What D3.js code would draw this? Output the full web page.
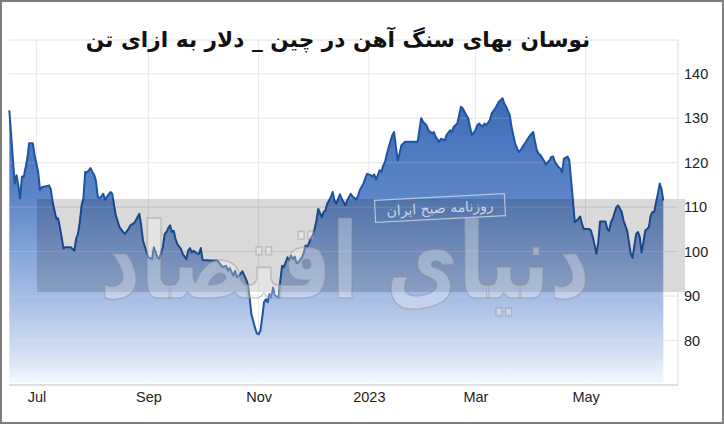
<!DOCTYPE html>
<html>
<head>
<meta charset="utf-8">
<script src="https://cdn.jsdelivr.net/npm/d3@7"></script>
<style>
  html, body { margin: 0; padding: 0; background: #fff; }
  svg { display: block; }
</style>
</head>
<body>
<svg id="chart" width="724" height="424"></svg>
<script>
const titleText = "نوسان بهای سنگ آهن در چین _ دلار به ازای تن";
const watermarkBig = "دنیای اقتصاد";
const watermarkSmall = "روزنامه صبح ایران";

const dates = [
"2022-06-16","2022-06-19","2022-06-20","2022-06-21","2022-06-22","2022-06-23","2022-06-24","2022-06-26","2022-06-27","2022-06-29",
"2022-06-30","2022-07-02","2022-07-03","2022-07-04","2022-07-08","2022-07-09","2022-07-10","2022-07-12","2022-07-13","2022-07-14",
"2022-07-16","2022-07-17","2022-07-20","2022-07-22","2022-07-23","2022-07-24","2022-07-25","2022-07-26","2022-07-27","2022-07-28",
"2022-07-29","2022-07-31","2022-08-01","2022-08-02","2022-08-03","2022-08-04","2022-08-05","2022-08-07","2022-08-08","2022-08-09",
"2022-08-11","2022-08-12","2022-08-13","2022-08-14","2022-08-16","2022-08-18","2022-08-19","2022-08-21","2022-08-22","2022-08-24",
"2022-08-25","2022-08-27","2022-08-28","2022-08-29","2022-08-31","2022-09-01","2022-09-03","2022-09-04","2022-09-06","2022-09-07",
"2022-09-09","2022-09-10","2022-09-11","2022-09-12","2022-09-13","2022-09-14","2022-09-15","2022-09-16","2022-09-17","2022-09-19",
"2022-09-20","2022-09-22","2022-09-23","2022-09-24","2022-09-25","2022-09-26","2022-09-28","2022-09-29","2022-09-30","2022-10-01",
"2022-10-05","2022-10-09","2022-10-10","2022-10-12","2022-10-14","2022-10-15","2022-10-16","2022-10-18","2022-10-19","2022-10-20",
"2022-10-22","2022-10-23","2022-10-25","2022-10-26","2022-10-27","2022-10-28","2022-10-30","2022-10-31","2022-11-01","2022-11-02",
"2022-11-03","2022-11-04","2022-11-05","2022-11-06","2022-11-07","2022-11-08","2022-11-09","2022-11-10","2022-11-12","2022-11-13",
"2022-11-14","2022-11-15","2022-11-17","2022-11-18","2022-11-19","2022-11-20","2022-11-21","2022-11-22","2022-11-23","2022-11-25",
"2022-11-26","2022-11-27","2022-11-28","2022-11-30","2022-12-01","2022-12-02","2022-12-03","2022-12-04","2022-12-06","2022-12-07",
"2022-12-08","2022-12-09","2022-12-11","2022-12-12","2022-12-13","2022-12-14","2022-12-16","2022-12-17","2022-12-19","2022-12-20",
"2022-12-22","2022-12-23","2022-12-25","2022-12-26","2022-12-27","2022-12-29","2022-12-30","2022-12-31","2023-01-02","2023-01-03",
"2023-01-04","2023-01-05","2023-01-07","2023-01-08","2023-01-09","2023-01-10","2023-01-11","2023-01-12","2023-01-14","2023-01-15",
"2023-01-16","2023-01-17","2023-01-18","2023-01-19","2023-01-21","2023-01-24","2023-01-28","2023-01-29","2023-01-30","2023-01-31",
"2023-02-02","2023-02-03","2023-02-05","2023-02-06","2023-02-07","2023-02-09","2023-02-10","2023-02-12","2023-02-13","2023-02-15",
"2023-02-16","2023-02-17","2023-02-19","2023-02-20","2023-02-21","2023-02-22","2023-02-24","2023-02-25","2023-02-26","2023-02-27",
"2023-03-01","2023-03-02","2023-03-03","2023-03-05","2023-03-06","2023-03-07","2023-03-09","2023-03-10","2023-03-12","2023-03-13",
"2023-03-14","2023-03-16","2023-03-17","2023-03-18","2023-03-20","2023-03-21","2023-03-22","2023-03-23","2023-03-25","2023-03-26",
"2023-03-27","2023-03-29","2023-03-30","2023-03-31","2023-04-02","2023-04-03","2023-04-04","2023-04-05","2023-04-06","2023-04-08",
"2023-04-09","2023-04-11","2023-04-12","2023-04-13","2023-04-14","2023-04-16","2023-04-17","2023-04-18","2023-04-19","2023-04-21",
"2023-04-22","2023-04-23","2023-04-24","2023-04-25","2023-04-27","2023-04-28","2023-04-29","2023-04-30","2023-05-03","2023-05-04",
"2023-05-05","2023-05-06","2023-05-07","2023-05-08","2023-05-09","2023-05-12","2023-05-13","2023-05-14","2023-05-15","2023-05-16",
"2023-05-18","2023-05-19","2023-05-21","2023-05-22","2023-05-24","2023-05-25","2023-05-26","2023-05-27","2023-05-28","2023-05-29",
"2023-05-30","2023-05-31","2023-06-01","2023-06-02","2023-06-03","2023-06-05","2023-06-06","2023-06-07","2023-06-08","2023-06-09",
"2023-06-10","2023-06-11","2023-06-12","2023-06-13"
];

const values = [
131.8,115.3,117.2,114.9,112.0,116.9,116.8,121.0,124.4,124.4,
121.7,117.9,113.8,114.5,114.9,114.0,111.1,107.4,107.5,105.5,
100.7,101.0,101.0,100.2,102.9,104.0,106.6,110.4,112.0,117.9,
117.8,118.8,117.9,117.3,115.8,112.3,112.0,113.0,111.7,112.3,
113.4,113.0,110.4,108.1,105.5,104.4,104.0,105.1,105.9,106.4,
107.0,108.5,105.9,102.5,99.8,98.7,98.3,101.0,98.7,98.4,
101.0,104.0,104.4,105.3,105.9,104.4,104.7,102.9,101.7,100.6,
99.5,98.3,100.2,100.8,99.8,100.2,99.5,99.5,100.8,98.1,
98.0,98.0,97.6,96.5,96.8,95.7,96.3,94.6,95.7,94.2,
95.0,95.6,93.8,92.7,89.7,85.9,82.9,81.6,81.4,82.2,
85.2,88.6,89.3,88.6,90.5,89.7,91.9,90.1,89.7,93.5,
96.8,96.5,98.7,98.0,99.1,98.3,98.9,97.4,97.6,98.7,
99.8,101.4,101.0,103.1,103.6,105.1,107.0,109.6,107.7,108.9,
109.3,110.8,112.3,113.4,111.5,110.8,112.9,111.9,110.4,111.5,
113.0,112.4,111.7,112.6,113.8,115.3,116.4,117.5,117.2,116.9,
117.4,116.2,118.3,117.9,119.4,120.2,122.0,123.5,126.2,126.9,
123.5,120.5,122.0,123.9,124.7,124.7,124.7,127.3,130.0,129.2,
128.4,127.3,126.6,126.9,125.8,124.7,125.4,125.0,126.2,127.3,
126.9,128.1,128.8,130.7,132.6,132.2,130.7,130.0,128.1,126.2,
127.3,128.4,128.8,128.1,128.8,128.4,129.6,131.1,132.2,133.0,
133.7,134.5,133.3,132.6,130.7,128.1,126.2,124.3,122.4,122.8,
123.5,124.7,125.4,126.0,126.9,124.7,122.8,122.0,121.7,120.4,
119.6,120.5,121.3,121.4,120.2,119.0,118.7,117.9,120.9,121.4,
120.5,116.0,111.5,106.6,107.4,107.9,106.2,105.1,105.1,104.7,
103.2,101.4,99.5,102.1,106.8,106.8,105.1,104.7,106.6,107.4,
110.0,110.4,108.9,107.0,104.7,102.1,99.5,98.6,101.4,104.0,
104.4,103.2,99.8,102.1,104.7,105.5,108.1,108.9,108.9,111.1,
113.0,115.3,114.1,111.5
];

const yTicks = [80, 90, 100, 110, 120, 130, 140];
const xTickDates = ["2022-07-01","2022-09-01","2022-11-01","2023-01-01","2023-03-01","2023-05-01"];
const xTickLabels = ["Jul","Sep","Nov","2023","Mar","May"];

const parse = d3.timeParse("%Y-%m-%d");
const data = dates.map((d, i) => ({ date: parse(d), value: values[i] }));

const svg = d3.select("#chart");
const W = 724, H = 424;
const plot = { left: 9, right: 678, top: 40, bottom: 385 };

const x = d3.scaleTime()
  .domain(d3.extent(data, d => d.date))
  .range([9.3, 663.3]);
const y = d3.scaleLinear()
  .domain([70, 147.6])
  .range([plot.bottom, plot.top]);

svg.append("rect").attr("x", 0).attr("y", 0).attr("width", W).attr("height", H).attr("fill", "#fff");

const defs = svg.append("defs");
const grad = defs.append("linearGradient")
  .attr("id", "areaGrad")
  .attr("gradientUnits", "userSpaceOnUse")
  .attr("x1", 0).attr("x2", 0)
  .attr("y1", y(135)).attr("y2", plot.bottom);
grad.append("stop").attr("offset", 0).attr("stop-color", "#3d6bb8");
grad.append("stop").attr("offset", 0.35).attr("stop-color", "#5d86c8");
grad.append("stop").attr("offset", 0.7).attr("stop-color", "#a6bee5");
grad.append("stop").attr("offset", 0.9).attr("stop-color", "#d6e1f4");
grad.append("stop").attr("offset", 1).attr("stop-color", "#f8fafe");

const grid = svg.append("g");
grid.selectAll("line.h").data(yTicks.concat([147.6])).join("line")
  .attr("x1", plot.left).attr("x2", plot.right)
  .attr("y1", d => y(d)).attr("y2", d => y(d))
  .attr("stroke", "#e2e2e2").attr("stroke-width", 1);
grid.selectAll("line.v").data(xTickDates).join("line")
  .attr("x1", d => x(parse(d))).attr("x2", d => x(parse(d)))
  .attr("y1", plot.top).attr("y2", plot.bottom)
  .attr("stroke", "#e8e8e8").attr("stroke-width", 1);

const area = d3.area()
  .x(d => x(d.date))
  .y0(plot.bottom - 2)
  .y1(d => y(d.value));
const line = d3.line()
  .x(d => x(d.date))
  .y(d => y(d.value));

svg.append("path").datum(data)
  .attr("d", area)
  .attr("fill", "url(#areaGrad)");

svg.append("g").selectAll("line").data(yTicks).join("line")
  .attr("x1", plot.left).attr("x2", plot.right)
  .attr("y1", d => y(d)).attr("y2", d => y(d))
  .attr("stroke", "#ffffff").attr("stroke-opacity", 0.18);

svg.append("path").datum(data)
  .attr("d", line)
  .attr("fill", "none")
  .attr("stroke", "#1d54a3")
  .attr("stroke-width", 2)
  .attr("stroke-linejoin", "round");

// watermark
const wm = svg.append("g");
wm.append("rect")
  .attr("x", 37).attr("y", 199).attr("width", 648).attr("height", 93)
  .attr("fill", "#000").attr("fill-opacity", 0.15);
const bigG = wm.append("g");
const big = bigG.append("text")
  .attr("x", 0).attr("y", 0)
  .attr("text-anchor", "middle")
  .attr("direction", "rtl")
  .attr("font-family", "DejaVu Sans")
  .attr("font-weight", "bold")
  .attr("font-size", 60)
  .attr("fill", "#ffffff").attr("fill-opacity", 0.3)
  .attr("stroke", "#8a8a8a").attr("stroke-opacity", 0.4).attr("stroke-width", 1)
  .text(watermarkBig);
const bigLen = big.node().getComputedTextLength() || 400;
bigG.attr("transform", `translate(345,298) scale(${490 / bigLen},1.75)`);

const sm = wm.append("g").attr("transform", "translate(440,208) rotate(-3)");
sm.append("rect")
  .attr("x", -65).attr("y", -11).attr("width", 130).attr("height", 22)
  .attr("fill", "none").attr("stroke", "#d0d6e2").attr("stroke-opacity", 0.8).attr("stroke-width", 1.2);
sm.append("text")
  .attr("x", 0).attr("y", 5)
  .attr("text-anchor", "middle")
  .attr("direction", "rtl")
  .attr("font-family", "DejaVu Sans")
  .attr("font-size", 14)
  .attr("fill", "#c9d2e3")
  .text(watermarkSmall);

// axes
const xAxis = svg.append("g")
  .attr("transform", `translate(0,${plot.bottom})`)
  .call(d3.axisBottom(x)
    .tickValues(xTickDates.map(parse))
    .tickFormat((d, i) => xTickLabels[i])
    .tickSize(0).tickPadding(7));
xAxis.select(".domain").remove();
xAxis.append("line").attr("x1", plot.left).attr("x2", plot.right)
  .attr("stroke", "#d6d6d6").attr("stroke-width", 1.5);
xAxis.selectAll("text")
  .attr("font-family", "Liberation Sans, Arial, sans-serif")
  .attr("font-size", 14.5).attr("fill", "#222");

const yAxis = svg.append("g")
  .attr("transform", `translate(${plot.right},0)`)
  .call(d3.axisRight(y).tickValues(yTicks).tickSize(0).tickPadding(6));
yAxis.select(".domain").remove();
yAxis.append("line").attr("y1", plot.top).attr("y2", plot.bottom)
  .attr("stroke", "#dcdcdc").attr("stroke-width", 1);
yAxis.selectAll("text")
  .attr("font-family", "Liberation Sans, Arial, sans-serif")
  .attr("font-size", 14.5).attr("fill", "#222");

// title
const title = svg.append("text")
  .attr("x", 338).attr("y", 47)
  .attr("text-anchor", "middle")
  .attr("direction", "rtl")
  .attr("font-family", "DejaVu Sans")
  .attr("font-weight", "bold")
  .attr("font-size", 22)
  .attr("fill", "#111")
  .text(titleText);
const tl = title.node().getComputedTextLength();
if (tl > 0) title.attr("font-size", 22 * 505 / tl);

svg.append("rect")
  .attr("x", 1).attr("y", 1).attr("width", W - 2).attr("height", H - 2)
  .attr("fill", "none").attr("stroke", "#7d7d7d").attr("stroke-width", 2);
</script>
</body>
</html>
